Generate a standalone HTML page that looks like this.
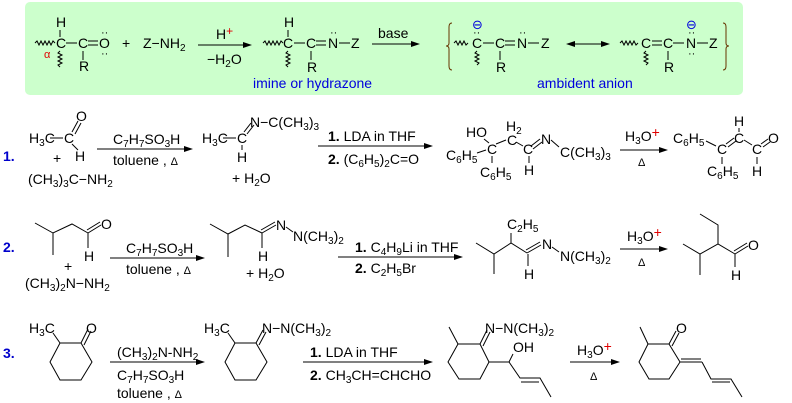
<!DOCTYPE html>
<html><head><meta charset="utf-8"><style>
html,body{margin:0;padding:0;background:#fff;}
svg{display:block;}
text{font-family:"Liberation Sans","DejaVu Sans",sans-serif;font-size:14px;fill:#000;}
.s{font-size:10px;}
.b{fill:#0000cc;font-weight:bold;}
.bl{fill:#0000dd;}
.r{fill:#e00000;}
line,path,polyline,polygon{stroke:#000;stroke-width:1;fill:none;}
.ah{fill:#000;stroke:none;}
</style></head><body>
<svg width="792" height="403" viewBox="0 0 792 403" xmlns="http://www.w3.org/2000/svg">
<rect x="25" y="2" width="718" height="93" rx="5" fill="#ccffcc" style="stroke:none"/>

<!-- ROW 0 -->
<path d="M35 43 l2 -2 l2 4 l2 -4 l2 4 l2 -4 l2 4 l2 -4 l2 4 l2 -4 l2 2"/>
<text x="56" y="48">C</text>
<text x="56" y="27">H</text>
<line x1="60" y1="30" x2="60" y2="37"/>
<text x="44" y="58" class="r" style="font-size:11px">α</text>
<path d="M60 51 l-2 2 l4 2 l-4 2 l4 2 l-4 2 l4 2 l-4 2 l2 2"/>
<line x1="66" y1="43" x2="77" y2="43"/>
<text x="78" y="48">C</text>
<line x1="88" y1="41" x2="98" y2="41"/><line x1="88" y1="45" x2="98" y2="45"/>
<text x="99" y="48">O</text>
<text x="101" y="36" style="font-size:11px">··</text>
<text x="101" y="57" style="font-size:11px">··</text>
<line x1="83" y1="51" x2="83" y2="60"/>
<text x="79" y="71">R</text>
<text x="122" y="48">+</text>
<text x="143" y="48">Z−NH<tspan class="s" dy="3">2</tspan></text>
<line x1="198" y1="45" x2="248" y2="45"/><polygon class="ah" points="252,45 243,42 243,48"/>
<text x="216" y="39">H<tspan class="r" dy="-4" style="font-size:12px">+</tspan></text>
<text x="207" y="64">−H<tspan class="s" dy="3">2</tspan><tspan dy="-3">O</tspan></text>

<path d="M263 43 l2 -2 l2 4 l2 -4 l2 4 l2 -4 l2 4 l2 -4 l2 4 l2 -4 l2 2"/>
<text x="283" y="48">C</text>
<text x="284" y="27">H</text>
<line x1="288" y1="30" x2="288" y2="37"/>
<path d="M288 51 l-2 2 l4 2 l-4 2 l4 2 l-4 2 l4 2 l-4 2 l2 2"/>
<line x1="294" y1="43" x2="305" y2="43"/>
<text x="306" y="48">C</text>
<line x1="316" y1="41" x2="326" y2="41"/><line x1="316" y1="45" x2="326" y2="45"/>
<text x="328" y="48">N</text>
<text x="330" y="36" style="font-size:11px">··</text>
<line x1="339" y1="43" x2="350" y2="43"/>
<text x="351" y="48">Z</text>
<line x1="311" y1="51" x2="311" y2="60"/>
<text x="307" y="72">R</text>
<text x="253" y="88" class="bl">imine or hydrazone</text>
<text x="378" y="38">base</text>
<line x1="372" y1="44" x2="416" y2="44"/><polygon class="ah" points="420,44 411,41 411,47"/>

<path d="M452 23 q-3 0 -3 4 v16 q0 3 -3 3 q3 0 3 3 v17 q0 4 3 4" style="stroke:#663300"/>
<text x="472" y="29" class="bl" style="font-size:13px">⊖</text>
<path d="M454 43 l2 -2 l2 4 l2 -4 l2 4 l2 -4 l2 4 l2 -2"/>
<text x="472" y="48">C</text>
<text x="473" y="36" style="font-size:11px">··</text>
<path d="M477 51 l-2 2 l4 2 l-4 2 l4 2 l-4 2 l4 2 l-2 2"/>
<line x1="483" y1="43" x2="494" y2="43"/>
<text x="495" y="48">C</text>
<line x1="505" y1="41" x2="515" y2="41"/><line x1="505" y1="45" x2="515" y2="45"/>
<text x="517" y="48">N</text>
<text x="519" y="36" style="font-size:11px">··</text>
<line x1="528" y1="43" x2="539" y2="43"/>
<text x="541" y="48">Z</text>
<line x1="500" y1="51" x2="500" y2="60"/>
<text x="496" y="72">R</text>
<text x="537" y="88" class="bl">ambident anion</text>
<line x1="570" y1="44" x2="606" y2="44"/>
<polygon class="ah" points="566,44 575,41 575,47"/><polygon class="ah" points="610,44 601,41 601,47"/>
<path d="M620 43 l2 -2 l2 4 l2 -4 l2 4 l2 -4 l2 4 l2 -4 l2 4 l2 -2"/>
<text x="641" y="48">C</text>
<path d="M646 51 l-2 2 l4 2 l-4 2 l4 2 l-4 2 l4 2 l-2 2"/>
<line x1="652" y1="41" x2="662" y2="41"/><line x1="652" y1="45" x2="662" y2="45"/>
<text x="663" y="48">C</text>
<line x1="673" y1="43" x2="684" y2="43"/>
<text x="686" y="48">N</text>
<text x="686" y="29" class="bl" style="font-size:13px">⊖</text>
<text x="688" y="36" style="font-size:11px">··</text>
<text x="688" y="57" style="font-size:11px">··</text>
<line x1="697" y1="43" x2="708" y2="43"/>
<text x="709" y="48">Z</text>
<line x1="668" y1="51" x2="668" y2="60"/>
<text x="664" y="72">R</text>
<path d="M723 23 q3 0 3 4 v16 q0 3 3 3 q-3 0 -3 3 v17 q0 4 -3 4" style="stroke:#663300"/>

<!-- ROW 1 -->
<text x="3" y="161" class="b">1.</text>
<text x="29" y="143">H<tspan class="s" dy="3">3</tspan><tspan dy="-3">C</tspan></text>
<line x1="50" y1="138" x2="63" y2="138"/>
<text x="64" y="143">C</text>
<line x1="72" y1="132" x2="78" y2="121"/><line x1="75" y1="134" x2="81" y2="123"/>
<text x="76" y="121">O</text>
<line x1="72" y1="144" x2="78" y2="150"/>
<text x="75" y="161">H</text>
<text x="53" y="163">+</text>
<text x="28" y="184">(CH<tspan class="s" dy="3">3</tspan><tspan dy="-3">)</tspan><tspan class="s" dy="3">3</tspan><tspan dy="-3">C−NH</tspan><tspan class="s" dy="3">2</tspan></text>
<line x1="97" y1="149" x2="189" y2="149"/><polygon class="ah" points="193,149 184,146 184,152"/>
<text x="113" y="144">C<tspan class="s" dy="3">7</tspan><tspan dy="-3">H</tspan><tspan class="s" dy="3">7</tspan><tspan dy="-3">SO</tspan><tspan class="s" dy="3">3</tspan><tspan dy="-3">H</tspan></text>
<text x="113" y="165">toluene , <tspan style="font-size:11px">Δ</tspan></text>
<text x="202" y="143">H<tspan class="s" dy="3">3</tspan><tspan dy="-3">C</tspan></text>
<line x1="223" y1="138" x2="236" y2="138"/>
<text x="237" y="143">C</text>
<line x1="244" y1="132" x2="251" y2="123"/><line x1="247" y1="134" x2="254" y2="125"/>
<text x="250" y="127">N−C(CH<tspan class="s" dy="3">3</tspan><tspan dy="-3">)</tspan><tspan class="s" dy="3">3</tspan></text>
<line x1="242" y1="145" x2="242" y2="150"/>
<text x="237" y="162">H</text>
<text x="232" y="183">+ H<tspan class="s" dy="3">2</tspan><tspan dy="-3">O</tspan></text>
<line x1="318" y1="146" x2="429" y2="146"/><polygon class="ah" points="433,146 424,143 424,149"/>
<text x="328" y="141"><tspan font-weight="bold">1.</tspan> LDA in THF</text>
<text x="328" y="164"><tspan font-weight="bold">2.</tspan> (C<tspan class="s" dy="3">6</tspan><tspan dy="-3">H</tspan><tspan class="s" dy="3">5</tspan><tspan dy="-3">)</tspan><tspan class="s" dy="3">2</tspan><tspan dy="-3">C=O</tspan></text>
<text x="466" y="137">HO</text>
<text x="506" y="131">H<tspan class="s" dy="3">2</tspan></text>
<text x="446" y="160">C<tspan class="s" dy="3">6</tspan><tspan dy="-3">H</tspan><tspan class="s" dy="3">5</tspan></text>
<text x="487" y="154">C</text>
<text x="480" y="177">C<tspan class="s" dy="3">6</tspan><tspan dy="-3">H</tspan><tspan class="s" dy="3">5</tspan></text>
<text x="507" y="145">C</text>
<text x="523" y="154">C</text>
<text x="541" y="144">N</text>
<text x="524" y="175">H</text>
<text x="560" y="157">C(CH<tspan class="s" dy="3">3</tspan><tspan dy="-3">)</tspan><tspan class="s" dy="3">3</tspan></text>
<line x1="484" y1="139" x2="489" y2="143"/>
<line x1="477" y1="153" x2="486" y2="150"/>
<line x1="492" y1="156" x2="492" y2="163"/>
<line x1="496" y1="144" x2="506" y2="140"/>
<line x1="516" y1="142" x2="523" y2="146"/>
<line x1="531" y1="146" x2="540" y2="139"/><line x1="533" y1="149" x2="542" y2="142"/>
<line x1="529" y1="156" x2="529" y2="163"/>
<line x1="551" y1="140" x2="559" y2="147"/>
<line x1="620" y1="150" x2="664" y2="150"/><polygon class="ah" points="668,150 659,147 659,153"/>
<text x="625" y="141">H<tspan class="s" dy="3">3</tspan><tspan dy="-3">O</tspan><tspan class="r" dy="-4">+</tspan></text>
<text x="638" y="166" style="font-size:11px">Δ</text>
<text x="673" y="143">C<tspan class="s" dy="3">6</tspan><tspan dy="-3">H</tspan><tspan class="s" dy="3">5</tspan></text>
<text x="717" y="154">C</text>
<text x="734" y="143">C</text>
<text x="734" y="126">H</text>
<text x="752" y="154">C</text>
<text x="768" y="143">O</text>
<text x="707" y="176">C<tspan class="s" dy="3">6</tspan><tspan dy="-3">H</tspan><tspan class="s" dy="3">5</tspan></text>
<text x="752" y="176">H</text>
<line x1="706" y1="141" x2="716" y2="146"/>
<line x1="726" y1="144" x2="734" y2="138"/><line x1="728" y1="147" x2="736" y2="141"/>
<line x1="739" y1="128" x2="739" y2="132"/>
<line x1="744" y1="140" x2="752" y2="145"/>
<line x1="761" y1="144" x2="768" y2="139"/><line x1="763" y1="147" x2="770" y2="142"/>
<line x1="757" y1="157" x2="757" y2="164"/>
<line x1="722" y1="157" x2="722" y2="164"/>

<!-- ROW 2 -->
<text x="3" y="252" class="b">2.</text>
<polyline points="35,223 53,233 72,224 88,233"/>
<line x1="53" y1="233" x2="53" y2="255"/>
<line x1="88" y1="233" x2="101" y2="225"/><line x1="87" y1="230" x2="100" y2="222"/>
<text x="101" y="229">O</text>
<line x1="88" y1="233" x2="88" y2="248"/>
<text x="84" y="261">H</text>
<text x="64" y="271">+</text>
<text x="25" y="288">(CH<tspan class="s" dy="3">3</tspan><tspan dy="-3">)</tspan><tspan class="s" dy="3">2</tspan><tspan dy="-3">N−NH</tspan><tspan class="s" dy="3">2</tspan></text>
<line x1="110" y1="258" x2="201" y2="258"/><polygon class="ah" points="205,258 196,255 196,261"/>
<text x="126" y="253">C<tspan class="s" dy="3">7</tspan><tspan dy="-3">H</tspan><tspan class="s" dy="3">7</tspan><tspan dy="-3">SO</tspan><tspan class="s" dy="3">3</tspan><tspan dy="-3">H</tspan></text>
<text x="126" y="274">toluene , <tspan style="font-size:11px">Δ</tspan></text>
<polyline points="210,224 228,234 245,225 262,233"/>
<line x1="228" y1="234" x2="228" y2="257"/>
<line x1="262" y1="233" x2="276" y2="225"/><line x1="261" y1="230" x2="275" y2="222"/>
<text x="276" y="230">N</text>
<line x1="286" y1="227" x2="293" y2="232"/>
<text x="293" y="241">N(CH<tspan class="s" dy="3">3</tspan><tspan dy="-3">)</tspan><tspan class="s" dy="3">2</tspan></text>
<line x1="262" y1="233" x2="262" y2="248"/>
<text x="258" y="261">H</text>
<text x="246" y="278">+ H<tspan class="s" dy="3">2</tspan><tspan dy="-3">O</tspan></text>
<line x1="338" y1="257" x2="459" y2="257"/><polygon class="ah" points="463,257 454,254 454,260"/>
<text x="355" y="252"><tspan font-weight="bold">1.</tspan> C<tspan class="s" dy="3">4</tspan><tspan dy="-3">H</tspan><tspan class="s" dy="3">9</tspan><tspan dy="-3">Li in THF</tspan></text>
<text x="355" y="273"><tspan font-weight="bold">2.</tspan> C<tspan class="s" dy="3">2</tspan><tspan dy="-3">H</tspan><tspan class="s" dy="3">5</tspan><tspan dy="-3">Br</tspan></text>
<text x="507" y="229">C<tspan class="s" dy="3">2</tspan><tspan dy="-3">H</tspan><tspan class="s" dy="3">5</tspan></text>
<polyline points="476,243 494,254 511,243 527,253"/>
<line x1="494" y1="254" x2="494" y2="274"/>
<line x1="511" y1="243" x2="511" y2="233"/>
<line x1="527" y1="253" x2="541" y2="245"/><line x1="526" y1="250" x2="540" y2="242"/>
<text x="542" y="249">N</text>
<line x1="552" y1="247" x2="559" y2="252"/>
<text x="560" y="261">N(CH<tspan class="s" dy="3">3</tspan><tspan dy="-3">)</tspan><tspan class="s" dy="3">2</tspan></text>
<line x1="528" y1="254" x2="528" y2="266"/>
<text x="524" y="279">H</text>
<line x1="620" y1="249" x2="664" y2="249"/><polygon class="ah" points="668,249 659,246 659,252"/>
<text x="627" y="241">H<tspan class="s" dy="3">3</tspan><tspan dy="-3">O</tspan><tspan class="r" dy="-4">+</tspan></text>
<text x="638" y="266" style="font-size:11px">Δ</text>
<polyline points="683,244 700,254 718,244 735,254"/>
<line x1="700" y1="254" x2="700" y2="275"/>
<polyline points="718,244 718,225 700,214"/>
<line x1="735" y1="254" x2="748" y2="246"/><line x1="734" y1="251" x2="747" y2="243"/>
<text x="748" y="250">O</text>
<line x1="735" y1="254" x2="735" y2="267"/>
<text x="731" y="280">H</text>

<!-- ROW 3 -->
<text x="3" y="358" class="b">3.</text>
<text x="29" y="333">H<tspan class="s" dy="3">3</tspan><tspan dy="-3">C</tspan></text>
<polygon points="60,343 81,343 92,362 81,380 60,380 50,362"/>
<line x1="53" y1="333" x2="60" y2="343"/>
<line x1="81" y1="343" x2="88" y2="329"/><line x1="84" y1="345" x2="91" y2="331"/>
<text x="86" y="333">O</text>
<line x1="110" y1="362" x2="201" y2="362"/><polygon class="ah" points="205,362 196,359 196,365"/>
<text x="117" y="357">(CH<tspan class="s" dy="3">3</tspan><tspan dy="-3">)</tspan><tspan class="s" dy="3">2</tspan><tspan dy="-3">N-NH</tspan><tspan class="s" dy="3">2</tspan></text>
<text x="117" y="380">C<tspan class="s" dy="3">7</tspan><tspan dy="-3">H</tspan><tspan class="s" dy="3">7</tspan><tspan dy="-3">SO</tspan><tspan class="s" dy="3">3</tspan><tspan dy="-3">H</tspan></text>
<text x="117" y="398">toluene , <tspan style="font-size:11px">Δ</tspan></text>
<text x="204" y="333">H<tspan class="s" dy="3">3</tspan><tspan dy="-3">C</tspan></text>
<polygon points="235,343 256,343 267,362 256,380 235,380 225,362"/>
<line x1="228" y1="333" x2="235" y2="343"/>
<line x1="256" y1="343" x2="263" y2="330"/><line x1="259" y1="345" x2="266" y2="332"/>
<text x="262" y="333">N−N(CH<tspan class="s" dy="3">3</tspan><tspan dy="-3">)</tspan><tspan class="s" dy="3">2</tspan></text>
<line x1="303" y1="362" x2="429" y2="362"/><polygon class="ah" points="433,362 424,359 424,365"/>
<text x="310" y="357"><tspan font-weight="bold">1.</tspan> LDA in THF</text>
<text x="310" y="380"><tspan font-weight="bold">2.</tspan> CH<tspan class="s" dy="3">3</tspan><tspan dy="-3">CH=CHCHO</tspan></text>
<polygon points="458,344 480,344 489,362 480,379 459,379 448,362"/>
<line x1="449" y1="327" x2="458" y2="344"/>
<line x1="480" y1="344" x2="487" y2="330"/><line x1="483" y1="346" x2="490" y2="332"/>
<text x="485" y="333">N−N(CH<tspan class="s" dy="3">3</tspan><tspan dy="-3">)</tspan><tspan class="s" dy="3">2</tspan></text>
<polyline points="489,362 509,362 520,378 540,378 551,397"/>
<line x1="521" y1="382" x2="539" y2="382"/>
<line x1="509" y1="362" x2="513" y2="354"/>
<text x="513" y="352">OH</text>
<line x1="570" y1="362" x2="616" y2="362"/><polygon class="ah" points="620,362 611,359 611,365"/>
<text x="577" y="355">H<tspan class="s" dy="3">3</tspan><tspan dy="-3">O</tspan><tspan class="r" dy="-4">+</tspan></text>
<text x="590" y="380" style="font-size:11px">Δ</text>
<polygon points="648,344 669,344 680,362 669,379 649,379 639,362"/>
<line x1="640" y1="327" x2="648" y2="344"/>
<line x1="669" y1="344" x2="676" y2="331"/><line x1="672" y1="346" x2="679" y2="333"/>
<text x="676" y="333">O</text>
<line x1="680" y1="362" x2="702" y2="362"/><line x1="681" y1="359" x2="701" y2="359"/>
<polyline points="702,362 711,379 731,379 742,397"/>
<line x1="712" y1="382" x2="730" y2="382"/>
</svg>
</body></html>
